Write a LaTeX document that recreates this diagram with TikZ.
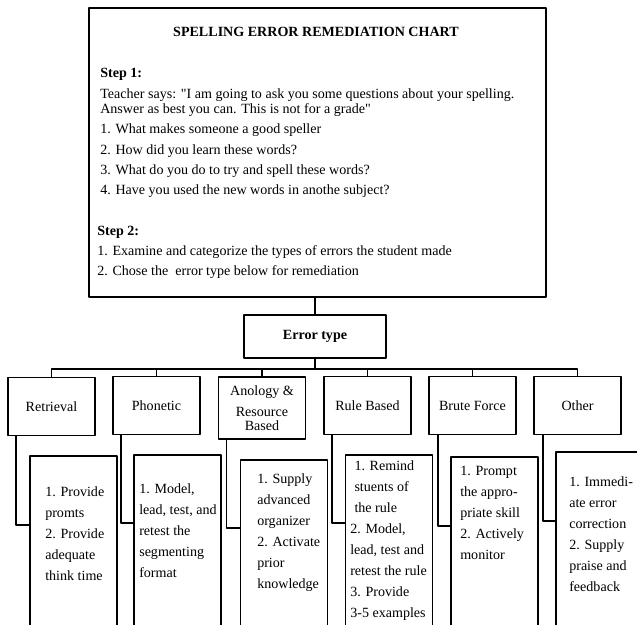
\documentclass[tikz,border=0pt]{standalone}
\usepackage{fontspec}
\setmainfont{Liberation Serif}
\usetikzlibrary{calc}
\tikzset{
  box/.style={draw, line width=1.2pt, inner sep=0pt},
  cat/.style={box, minimum width=2.175cm, minimum height=1.45cm, align=center},
  detail/.style={box, minimum width=2.175cm, minimum height=6cm, anchor=north},
  item/.style={anchor=base west, inner sep=0pt},
  note/.style={anchor=north west, inner sep=0pt, align=left},
  wire/.style={line width=1.2pt},
}
\begin{document}
\begin{tikzpicture}[x=0.025cm, y=-0.025cm, font=\fontsize{10}{15}\selectfont, line join=round, line cap=round]
	\clip (0,0) rectangle (637,624);
	% chart
	\node[box, minimum width=11.425cm, minimum height=7.225cm] (chart) at (317.5,152.5) {};
	\node[inner sep=0pt, anchor=base] (title) at (316,37) {\textbf{SPELLING ERROR REMEDIATION CHART}};
	\node[item] (step1) at (100,78) {\textbf{Step 1:}};
	\node[item] (say1) at (100,98) {Teacher says: \textquotedbl I am going to ask you some questions about your spelling.};
	\node[item] (say2) at (100,113) {Answer as best you can. This is not for a grade\textquotedbl};
	\node[item] (q1) at (100,133) {1. What makes someone a good speller};
	\node[item] (q2) at (100,154) {2. How did you learn these words?};
	\node[item] (q3) at (100,174) {3. What do you do to try and spell these words?};
	\node[item] (q4) at (100,194) {4. Have you used the new words in anothe subject?};
	\node[item] (step2) at (97,235) {\textbf{Step 2:}};
	\node[item] (do1) at (97,255) {1. Examine and categorize the types of errors the student made};
	\node[item] (do2) at (97,275) {2. Chose the\ \ error type below for remediation};
	% error types
	\node[box, minimum width=3.55cm, minimum height=1.075cm] (type) at (315,336.5) {\textbf{Error type}};
	\node[cat] (ret) at (51.5,406.5) {Retrieval};
	\node[cat] (pho) at (156.5,405.5) {Phonetic};
	\node[cat, minimum height=1.55cm] (ana) at (262,408) {Anology \&\\Resource\\[-5pt]Based};
	\node[cat] (rul) at (367.5,405.5) {Rule Based};
	\node[cat] (bru) at (472.5,405.5) {Brute Force};
	\node[cat] (oth) at (577.5,405.5) {Other};
	\draw[wire] (type.north) -- (type.north |- chart.south);
	\coordinate (bar) at ($(type.south)+(0,10)$);
	\draw[wire] (type.south) -- (bar);
	\draw[wire] (bar) -| (ret.north);
	\draw[wire] (bar) -| (pho.north);
	\draw[wire] (bar) -| (ana.north);
	\draw[wire] (bar) -| (rul.north);
	\draw[wire] (bar) -| (bru.north);
	\draw[wire] (bar) -| (oth.north);
	% remedies
	\node[detail] (retd) at (73.5,455) {};
	\node[detail] (phod) at (177.5,454) {};
	\node[detail] (anad) at (284,459) {};
	\node[detail] (ruld) at (389,454) {};
	\node[detail] (brud) at (494.5,456) {};
	\node[detail] (othd) at (599.5,451) {};
	\node[note] (rettxt) at (45,486) {1. Provide\\promts\\2. Provide\\adequate\\think time};
	\node[note] (photxt) at (139,483) {1. Model,\\lead, test, and\\retest the\\segmenting\\format};
	\node[note] (anatxt) at (257,473) {1. Supply\\advanced\\organizer\\2. Activate\\prior\\knowledge};
	\node[note] (rultxt) at (350,460) {\hspace*{3pt}1. Remind\\\hspace*{3pt}stuents of\\\hspace*{3pt}the rule\\2. Model,\\lead, test and\\retest the rule\\3. Provide\\3-5 examples};
	\node[note] (brutxt) at (460,466) {1. Prompt\\the appro-\\priate skill\\2. Actively\\monitor};
	\node[note] (othtxt) at (569,476) {1. Immedi-\\ate error\\correction\\2. Supply\\praise and\\feedback};
	\draw[wire] ($(ret.south west)+(9,0)$) |- ($(retd.north west)+(0,70)$);
	\draw[wire] ($(pho.south west)+(9,0)$) |- ($(phod.north west)+(0,69)$);
	\draw[wire] ($(ana.south west)+(9,0)$) |- ($(anad.north west)+(0,69)$);
	\draw[wire] ($(rul.south west)+(9,0)$) |- ($(ruld.north west)+(0,69)$);
	\draw[wire] ($(bru.south west)+(10,0)$) |- ($(brud.north west)+(0,70)$);
	\draw[wire] ($(oth.south west)+(10,0)$) |- ($(othd.north west)+(0,70)$);
\end{tikzpicture}
\end{document}
